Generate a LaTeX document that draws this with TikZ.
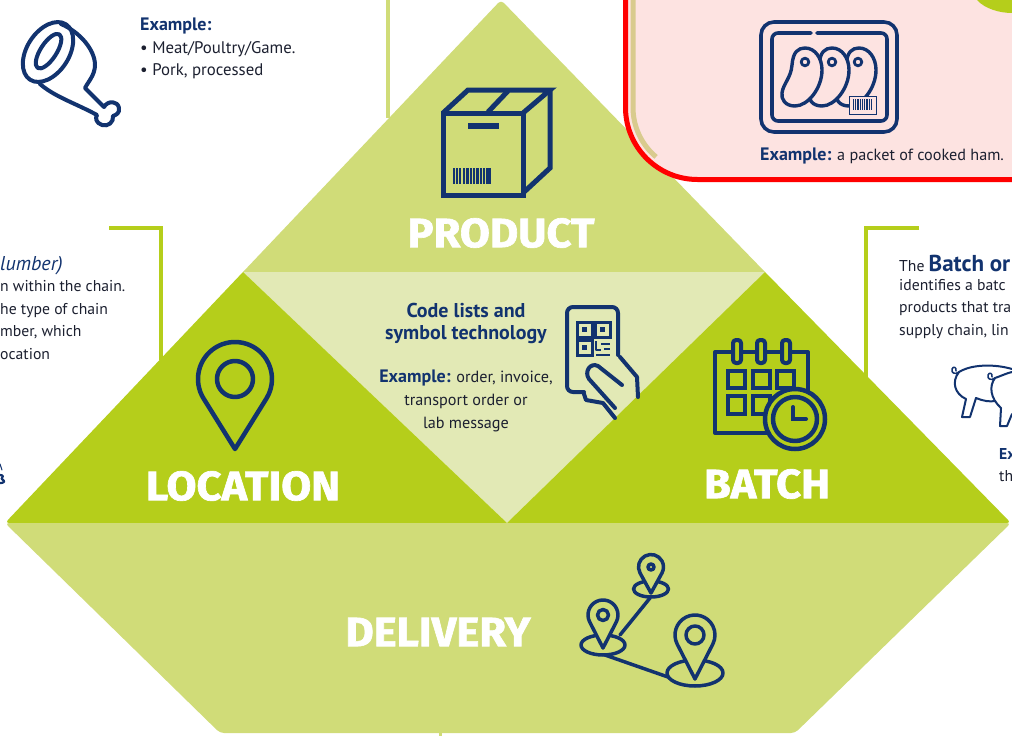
\documentclass[tikz,border=0pt]{standalone}
\usepackage{fontspec}
\setmainfont{PT Sans}
\newfontfamily\headfont[BoldFeatures={FakeBold=1.6,FakeStretch=1.06}]{Fira Sans}
\definecolor{navyblue}{HTML}{12336F}
\definecolor{palegreen}{HTML}{D0DC78}
\definecolor{lightgreen}{HTML}{E2E9B5}
\definecolor{limegreen}{HTML}{B5CE1B}
\definecolor{pinkfill}{HTML}{FDE3E1}
\definecolor{tanstrip}{HTML}{D9CB8E}
\definecolor{bodyblack}{HTML}{1C2030}
\tikzset{
    iconline/.style={draw=navyblue, line width=#1, line join=round, line cap=round},
    iconline/.default=3,
    headtext/.style={text=white, inner sep=0, font=\headfont\bfseries\fontsize{41}{41}\selectfont},
    bodytext/.style={text=bodyblack, inner sep=0, align=left, font=\fontsize{15.7}{22.5}\selectfont},
    middletext/.style={text=bodyblack, inner sep=0, align=center, font=\fontsize{16.2}{23}\selectfont}
}
\newcommand{\navybf}[1]{\textcolor{navyblue}{\textbf{#1}}}
\newcommand{\pinmark}[7]{
    \pgfmathsetmacro{\pinangle}{acos(#3/#5)}
    \draw[iconline=#6, fill=#7] (#1,#2+#5) -- ([shift={(#1,#2)}] 90+\pinangle:#3) arc[start angle=90+\pinangle, end angle=450-\pinangle, radius=#3] -- cycle;
    \draw[iconline=#6] (#1,#2) circle (#4);
}
\newcommand{\hampiece}{(792,65) .. controls (793,52) and (798,48) .. (805,48) .. controls (815,48) and (822,58) .. (822,70) .. controls (822,88) and (808,106) .. (795,106) .. controls (785,106) and (781,99) .. (782,93) .. controls (783,84) and (791,78) .. (792,65) -- cycle}
\begin{document}
\begin{tikzpicture}[x=1pt, y=-1pt]
        \useasboundingbox[fill=white] (0,0) rectangle (1012,736);

        \draw[draw=palegreen, line width=4] (388,0) -- (388,118);
        \draw[draw=limegreen, line width=4] (109,228) -- (161,228) -- (161,360);
        \draw[draw=limegreen, line width=4] (919,228) -- (866,228) -- (866,380);
        \draw[draw=palegreen, line width=3] (440,730) -- (440,736);

        \fill[palegreen] (243,272) [rounded corners=4] -- (501,0) [sharp corners] -- (765,272) -- cycle;
        \fill[lightgreen] (243,272) -- (765,272) -- (507,523) -- cycle;
        \fill[limegreen] (243,272) -- (507,523) [rounded corners=4] -- (5,523) [sharp corners] -- cycle;
        \fill[limegreen] (765,272) [rounded corners=4] -- (1011,523) [sharp corners] -- (507,523) -- cycle;
        \fill[palegreen, rounded corners=4] (5,523) -- (1011,523) -- (795,733) -- (220,733) -- cycle;

        \fill[pinkfill] (625.5,0) [rounded corners=72] -- (625.5,179.5) [sharp corners] -- (1012,179.5) -- (1012,0) -- cycle;
        \draw[draw=red, line width=5, rounded corners=72] (625.5,0) -- (625.5,179.5) -- (1012,179.5);
        \draw[draw=tanstrip, line width=5] (633,0) -- (633,107.5) arc[start angle=180, end angle=130, radius=64.5];
        \fill[limegreen] (977,0) .. controls (985,9) and (1000,13) .. (1012,13) -- (1012,0) -- cycle;

        \draw[iconline=4] (61,24) .. controls (80,32) and (95,50) .. (95,65) .. controls (95,75) and (88,82) .. (85,88) -- (104,107) .. controls (108,100) and (118,101) .. (119,108) .. controls (120,113) and (116,115) .. (113,116) .. controls (114,122) and (108,127) .. (102,125) .. controls (96,123) and (95,118) .. (97,115) .. controls (75,103) and (55,97) .. (40,84);
        \draw[iconline=4, rotate around={57:(48,52)}] (48,52) ellipse (33 and 21);
        \draw[iconline=4, rotate around={57:(48,52)}] (49,52) ellipse (20 and 8);

        \draw[iconline=5, line join=miter, line cap=butt] (443,113) rectangle (523,195);
        \draw[iconline=5, line join=miter, line cap=butt] (443,113) -- (468,90) -- (550,90) -- (523,113);
        \draw[iconline=5, line join=miter, line cap=butt] (550,90) -- (550,168) -- (523,193);
        \draw[iconline=5, line cap=butt] (488,112) -- (508,91);
        \fill[navyblue] (468,123) rectangle (499,129);
        \foreach \barx/\barw in {453/1.5,456/1.5,459/2,463/1.5,466/2.5,470/1.5,473/1.5,476/2.5,480/1.5,483/1.5,486/2.5,489/1.5}
            \fill[navyblue] (\barx,168) rectangle (\barx+\barw,184);

        \draw[iconline=3.6] (774,22) -- (884,22) arc[start angle=270, end angle=360, radius=13] -- (897,119) arc[start angle=0, end angle=90, radius=13] -- (774,132) arc[start angle=90, end angle=180, radius=13] -- (761,35) arc[start angle=180, end angle=270, radius=13];
        \draw[iconline=3.6] (811,33) -- (778,33) arc[start angle=270, end angle=180, radius=6] -- (772,115) arc[start angle=180, end angle=90, radius=6] -- (881,121) arc[start angle=90, end angle=0, radius=6] -- (887,39) arc[start angle=0, end angle=-90, radius=6] -- (817,33);
        \draw[iconline=3.4, fill=pinkfill, xshift=54] \hampiece;
        \draw[iconline=3.4, fill=pinkfill, xshift=27] \hampiece;
        \draw[iconline=3.4, fill=pinkfill] \hampiece;
        \foreach \dotx in {805,832,858}
            \draw[iconline=2.8] (\dotx,62) circle (3.8);
        \draw[draw=navyblue, line width=0.7, fill=pinkfill] (849,96) rectangle (876,114);
        \foreach \barx/\barw in {853/1,855/1,857/1.5,860/0.7,862/1.2,864/1,866/1.5,869/0.7,870.5/1.5}
            \fill[navyblue] (\barx,99) rectangle (\barx+\barw,110);

        \pinmark{235}{379}{37}{18}{70}{4.5}{limegreen}

        \draw[iconline=4] (715,352) rectangle (808,433);
        \foreach \ringx in {737,761,786}
            \draw[iconline=4, fill=limegreen, rounded corners=3] (\ringx-4,340) rectangle (\ringx+4,363);
        \foreach \cellx in {728,753,777}
            \draw[iconline=4.5, line join=miter] (\cellx,371) rectangle (\cellx+17,388);
        \foreach \cellx in {728,753}
            \draw[iconline=4.5, line join=miter] (\cellx,396) rectangle (\cellx+17,414);
        \draw[iconline=4.5, fill=limegreen] (795,419) circle (30);
        \draw[iconline=4.5, fill=limegreen] (795,419) circle (22);
        \draw[iconline=4, line join=miter] (793,407) -- (793,419) -- (806,419);

        \draw[iconline=4] (618,355) -- (618,313) arc[start angle=0, end angle=-90, radius=6] -- (573,307) arc[start angle=270, end angle=180, radius=6] -- (567,386) arc[start angle=180, end angle=90, radius=6] -- (584,392);
        \foreach \qrx/\qry in {577/322,595/322,577/340}{
            \draw[iconline=3, line join=miter] (\qrx,\qry) rectangle (\qrx+15,\qry+15);
            \fill[navyblue] (\qrx+5,\qry+5) rectangle (\qrx+10,\qry+10);
        }
        \draw[iconline=2.2, line cap=butt] (596,341) -- (596,350) -- (601,350) (601,344) -- (610,344) (604,349) -- (610,349) (596,355) -- (610,355);
        \draw[iconline=4] (620,357) -- (637,377) -- (638,397);
        \draw[iconline=4, fill=lightgreen] (622,385) -- (598,366) .. controls (590,362) and (584,372) .. (589,379) -- (615,408);
        \draw[iconline=4] (584,394) -- (586,400) -- (603,403) -- (615,418);

        \draw[iconline=3.5] (620,635) -- (650,598);
        \draw[iconline=3.5] (605,655) -- (668,677);
        \draw[iconline=3.5] (603,645) ellipse (22 and 10);
        \draw[iconline=3.5] (651,589) ellipse (17.5 and 8);
        \draw[iconline=3.5] (695,673) ellipse (28 and 13);
        \pinmark{603}{615}{15}{5.5}{33}{3.5}{palegreen}
        \pinmark{651}{567}{12.5}{3}{26}{3.5}{palegreen}
        \pinmark{695}{635}{20}{9}{44}{3.5}{palegreen}

        \draw[iconline=2] (959,372) .. controls (972,364) and (995,364) .. (1012,369);
        \draw[iconline=2] (959,372) .. controls (951,382) and (955,394) .. (966,399) -- (962,417) -- (970,417) -- (976,398) .. controls (983,401) and (990,402) .. (995,401);
        \draw[iconline=1.5] (959,372) .. controls (955,375) and (951,373) .. (952,369) .. controls (953,366) and (957,367) .. (956,371);
        \draw[iconline=2] (995,378) .. controls (1001,376) and (1007,373) .. (1012,372);
        \draw[iconline=2] (995,378) .. controls (989,386) and (990,398) .. (1001,408) -- (1000,426) -- (1007,426) -- (1012,414);
        \draw[iconline=1.5] (995,378) .. controls (991,381) and (987,379) .. (988,375) .. controls (989,372) and (993,373) .. (992,377);
        \draw[iconline=2.2] (0,475) .. controls (3,475) and (4,477) .. (2,478) .. controls (0,479) and (5,480) .. (4,482) .. controls (3,483) and (1,483) .. (0,483);
        \draw[iconline=1] (0,464) -- (2,470);

        \node(Product) at (501,233)[headtext]{PRODUCT};
        \node(Location) at (243,486)[headtext]{LOCATION};
        \node(Batch) at (767,484)[headtext]{BATCH};
        \node(Delivery) at (438,632)[headtext]{DELIVERY};

        \node(MeatExample) at (140,18)[bodytext, anchor=north west, font=\fontsize{16.8}{22.5}\selectfont]{\navybf{\fontsize{18}{22.5}\selectfont Example:}\\• Meat/Poultry/Game.\\• Pork, processed};
        \node(PacketExample) at (760,156)[bodytext, anchor=west, font=\fontsize{16.2}{22.5}\selectfont]{\navybf{\fontsize{18}{22.5}\selectfont Example:} a packet of cooked ham.};
        \node(CodeLists) at (466,323)[middletext, anchor=center, font=\bfseries\fontsize{20}{22}\selectfont, text=navyblue]{Code lists and\\symbol technology};
        \node(LabExample) at (466,401)[middletext, anchor=center]{\navybf{\fontsize{18}{23}\selectfont Example:} order, invoice,\\transport order or\\lab message};
        \node(NumberHead) at (0,266)[bodytext, anchor=west, text=navyblue, font=\itshape\fontsize{20}{20}\selectfont]{lumber)};
        \node(LocationText) at (0,320)[bodytext, anchor=west]{n within the chain.\\he type of chain\\mber, which\\ocation};
        \node(BatchHead) at (899,263)[bodytext, anchor=west]{The \navybf{\fontsize{23}{22}\selectfont Batch or}};
        \node(BatchText) at (899,309)[bodytext, anchor=west]{identifies a batc\\products that tra\\supply chain, lin};
        \node(PigExample) at (999,465)[bodytext, anchor=west]{\navybf{Ex}\\th};
    \end{tikzpicture}
\end{document}
